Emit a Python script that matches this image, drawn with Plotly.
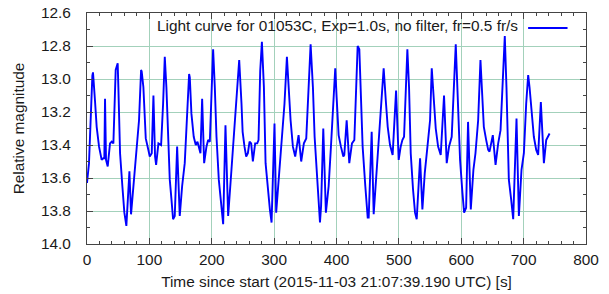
import plotly.graph_objects as go

series_name = "Light curve for 01053C, Exp=1.0s, no filter, fr=0.5 fr/s"
x_title = "Time since start (2015-11-03 21:07:39.190 UTC) [s]"
y_title = "Relative magnitude"

time_s = [
    0, 3.2, 8.6, 9.6, 12.8, 15.5, 19.3, 23.5, 26.2, 27.8, 28.9, 30.5, 33.2, 36.9, 39.6, 42.3,
    46, 49.2, 50.3, 53, 56.7, 59.9, 63.1, 68, 70.6, 74.4, 79.7, 83.4, 86.7, 87.7, 90.4, 94.2,
    98.4, 100.6, 103.8, 106.5, 109.1, 110.8, 114.5, 118.8, 122, 124.7, 127.3, 130, 132.7,
    135.4, 138, 140.7, 144.5, 148.7, 152.5, 156.7, 160.5, 163.7, 164.8, 167.4, 171.1, 174.4,
    177.1, 179.8, 181.9, 184.6, 187.8, 191.5, 194.2, 196.9, 199.6, 202.2, 204.9, 207.6,
    211.3, 215.6, 218.3, 222, 226.3, 231.6, 237, 242.4, 244, 247.7, 249.5, 252.5, 255.2,
    257.9, 260.6, 263.2, 265.9, 269.6, 272.9, 275, 277.7, 280.4, 283.6, 286.3, 290, 293.2,
    295.9, 300.6, 303.3, 307.5, 312.3, 316.6, 320.5, 323.2, 326.4, 330.1, 333.8, 339.2,
    343.4, 347.7, 351.5, 358.5, 362.2, 364.9, 369.2, 371.5, 373.5, 375.3, 378.8, 383, 387.4,
    391.1, 394.9, 398, 400.2, 403.4, 407.1, 410.9, 412.5, 416.3, 420.5, 424.8, 428.6, 433.9,
    436.6, 439.3, 441.9, 446.2, 450, 451.6, 456.4, 459.6, 463.3, 468.7, 473, 475.6, 479.4,
    482.1, 485.8, 490, 495.5, 499.7, 502.9, 505.6, 508.3, 513.6, 516.3, 519, 522.7, 525.9,
    528.6, 534, 537.7, 541.5, 545.8, 550, 552.7, 555.4, 559.1, 562.9, 567.1, 572.4, 576.7,
    580.4, 584.7, 591.2, 594.9, 598.1, 601.9, 604.6, 607.8, 610.9, 615.3, 619.5, 622.8,
    627.1, 630.8, 633.5, 636.2, 640, 643.2, 645.3, 650.6, 655, 659.2, 663, 669.8, 672.5,
    676.3, 680, 683.3, 688.6, 692.4, 696.6, 700.4, 704.1, 707.3, 709.5, 712.7, 716.4, 720.2,
    723.3, 727.6, 732.5, 736.2, 741.6,
]

magnitude = [
    13.63, 13.51, 12.98, 12.96, 13.13, 13.29, 13.41, 13.49, 13.48, 13.48, 13.12, 13.49, 13.53, 13.39, 13.38, 13.39,
    12.945, 12.905, 13.05, 13.45, 13.65, 13.81, 13.89, 13.56, 13.82, 13.65, 13.45, 13.25, 12.945, 12.955, 13.05, 13.36,
    13.43, 13.47, 13.45, 13.10, 13.47, 13.52, 13.39, 13.40, 13.15, 12.865, 13.05, 13.35, 13.61,
    13.73, 13.85, 13.83, 13.41, 13.83, 13.65, 13.51, 13.25, 12.97, 12.99, 13.21, 13.35, 13.40,
    13.38, 13.42, 13.45, 13.12, 13.51, 13.41, 13.37, 13.38, 13.05, 12.82, 13.05, 13.35,
    13.61, 13.79, 13.88, 13.28, 13.83, 13.55, 13.25, 12.945, 12.885, 13.15, 13.32, 13.41, 13.47,
    13.45, 13.38, 13.39, 13.50, 13.39, 13.39, 13.37, 12.95, 12.775, 13.05, 13.51, 13.67, 13.79,
    13.87, 13.27, 13.81, 13.61, 13.41, 13.15, 12.865, 13.05, 13.25, 13.41, 13.47, 13.34,
    13.50, 13.39, 13.36, 12.79, 13.05, 13.35, 13.61, 13.78, 13.87, 13.77, 13.30, 13.81, 13.65,
    13.41, 13.15, 12.935, 13.11, 13.34, 13.41, 13.47, 13.46, 13.25, 13.51, 13.39, 13.37, 12.80,
    12.82, 13.11, 13.41, 13.65, 13.84, 13.84, 13.32, 13.82, 13.61, 13.31, 13.05, 12.935, 13.15,
    13.29, 13.40, 13.46, 13.07, 13.49, 13.41, 13.37, 13.35, 12.82, 13.05, 13.45, 13.67, 13.81,
    13.85, 13.48, 13.79, 13.57, 13.41, 13.25, 12.935, 13.08, 13.30, 13.41, 13.46, 13.10, 13.51,
    13.41, 13.35, 12.79, 13.15, 13.49, 13.69, 13.81, 13.78, 13.26, 13.79, 13.55, 13.45,
    13.25, 12.885, 13.07, 13.29, 13.37, 13.43, 13.44, 13.34, 13.52, 13.39, 13.31, 12.74, 13.05,
    13.61, 13.73, 13.85, 13.24, 13.83, 13.55, 13.45, 13.15, 12.976, 13.05, 13.21, 13.35, 13.43,
    13.46, 13.14, 13.51, 13.37, 13.33,
]

x_ticks = [0, 100, 200, 300, 400, 500, 600, 700, 800]
y_ticks = [12.6, 12.8, 13.0, 13.2, 13.4, 13.6, 13.8, 14.0]

FONT = "Liberation Sans, Arial, sans-serif"
FS = 15.4
GRID = "#a3d1bb"
BORDER = "#444444"
TEXT = "#1a1a1a"

fig = go.Figure()
fig.add_trace(go.Scatter(
    x=time_s, y=magnitude, mode="lines", name=series_name,
    line=dict(color="#0000ff", width=1.9), showlegend=False,
))

axis_common = dict(
    showline=True, linecolor=BORDER, linewidth=1, mirror="allticks",
    ticks="inside", ticklen=6, tickcolor=BORDER, tickwidth=1,
    showgrid=True, gridcolor=GRID, gridwidth=1, zeroline=False,
    tickfont=dict(family=FONT, size=FS, color=TEXT),
    automargin=False, ticklabeloverflow="allow",
)

fig.update_xaxes(
    range=[0, 800], tickvals=x_ticks, ticktext=[str(v) for v in x_ticks],
    minor=dict(dtick=20, ticks="inside", ticklen=3, tickcolor=BORDER, showgrid=False),
    title=dict(text=x_title, font=dict(family=FONT, size=FS, color=TEXT), standoff=8),
    ticklabelstandoff=2,
    **axis_common,
)
fig.update_yaxes(
    range=[14.0, 12.6], tickvals=y_ticks, ticktext=[f"{v:.1f}" for v in y_ticks],
    minor=dict(dtick=0.1, ticks="inside", ticklen=3, tickcolor=BORDER, showgrid=False),
    title=dict(text=y_title, font=dict(family=FONT, size=FS, color=TEXT), standoff=12),
    ticklabelstandoff=12,
    **axis_common,
)

# key: text followed by a line sample, gnuplot style
fig.add_annotation(
    xref="paper", yref="paper", x=0.868, y=0.948, xanchor="right", yanchor="middle",
    text=series_name, showarrow=False, font=dict(family=FONT, size=FS, color=TEXT),
)
fig.add_shape(
    type="line", xref="paper", yref="paper", x0=0.884, x1=0.963, y0=0.935, y1=0.935,
    line=dict(color="#0000ff", width=1.9),
)

fig.update_layout(
    width=609, height=294,
    margin=dict(l=87, r=23, t=13, b=50),
    paper_bgcolor="white", plot_bgcolor="white",
    font=dict(family=FONT, size=FS, color=TEXT),
)

# remove the default page body margin so the figure sits at the window's corner
fig.write_html(
    "out.html",
    config={"displayModeBar": False},
    post_script="document.body.style.margin='0';",
)
